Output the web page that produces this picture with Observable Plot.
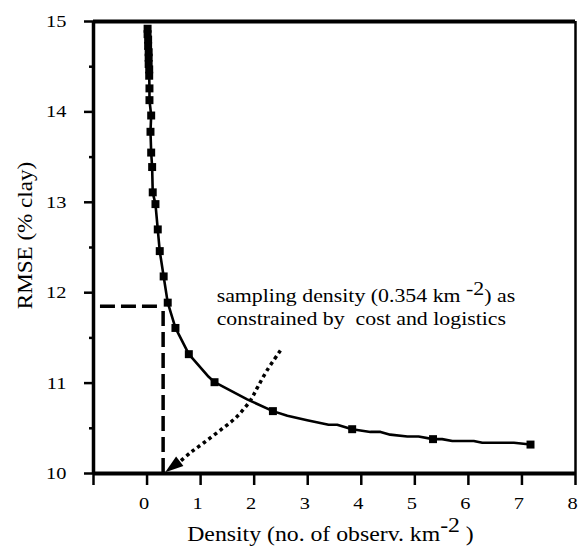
<!DOCTYPE html>
<html><head><meta charset="utf-8">
<script src="https://cdn.jsdelivr.net/npm/d3@7"></script>
<script src="https://cdn.jsdelivr.net/npm/@observablehq/plot@0.6"></script>
<style>body{margin:0;background:#fff} svg{display:block}</style>
</head><body><div id="chart"></div>
<script>
// Marked observations (density, RMSE)
const markerDensity = [0.01,0.01,0.02,0.02,0.03,0.03,0.03,0.04,0.04,0.045,0.045,0.077,0.064,0.077,0.095,0.106,0.157,0.2,0.237,0.31,0.386,0.53,0.78,1.26,2.35,3.83,5.34,7.16];
const markerRMSE    = [14.92,14.86,14.80,14.73,14.66,14.60,14.53,14.47,14.40,14.26,14.13,13.96,13.78,13.55,13.39,13.11,12.98,12.70,12.46,12.18,11.89,11.61,11.32,11.01,10.69,10.49,10.38,10.32];
// Unmarked vertices of the curve
const extraDensity = [1.15,1.87,2.62,2.99,3.39,3.55,4.17,4.36,4.54,4.86,5.07,5.51,5.70,6.10,6.26,6.85];
const extraRMSE    = [11.07,10.82,10.64,10.59,10.54,10.54,10.46,10.46,10.43,10.41,10.41,10.38,10.36,10.36,10.34,10.34];
// Chosen sampling density
const cutoffDensity = 0.3;
const cutoffRMSE = 11.85;
const dashStartDensity = -0.87;
// Dotted pointer curve
const pointerDensity = [2.49,2.24,2.06,1.93,1.68,1.37,1.06,0.81,0.61];
const pointerRMSE    = [11.36,11.14,10.95,10.81,10.63,10.48,10.34,10.23,10.13];
const pointerHead = {density: 0.52, rmse: 10.095};
// Ticks and labels
const xTicks = [-1,0,1,2,3,4,5,6,7,8];
const yTicks = [10,11,12,13,14,15];
const yMinorTicks = [10.5,11.5,12.5,13.5,14.5];
const xLabel = "Density (no. of observ. km-2 )";
const yLabel = "RMSE (% clay)";
const noteLines = ["sampling density (0.354 km -2) as", "constrained by  cost and logistics"];

const markers = markerDensity.map((d, i) => ({density: d, rmse: markerRMSE[i]}));
const curve = markers.concat(extraDensity.map((d, i) => ({density: d, rmse: extraRMSE[i]})))
  .sort((a, b) => b.rmse - a.rmse);
const pointer = pointerDensity.map((d, i) => ({density: d, rmse: pointerRMSE[i]}));
const font = "'Liberation Serif', 'Times New Roman', serif";

const chart = Plot.plot({
  width: 579, height: 548,
  marginLeft: 93, marginRight: 4, marginTop: 21, marginBottom: 75,
  x: {domain: [-1, 8]},
  y: {domain: [10, 15]},
  style: {fontFamily: font, fontSize: "17px", color: "black", background: "white"},
  marks: [
    Plot.axisY({ticks: yTicks, tickSize: 9, tickPadding: 18, strokeWidth: 2.5, fontSize: 17, tickFormat: d => String(d), label: null, className: "ytl"}),
    Plot.axisY({ticks: yMinorTicks, tickSize: 4, strokeWidth: 2.5, tickFormat: () => "", label: null}),
    Plot.axisX({ticks: xTicks, tickSize: 12, tickPadding: 11, strokeWidth: 2.5, fontSize: 17, tickFormat: d => d < 0 ? "" : String(d), label: null, className: "xtl"}),
    Plot.ruleX([-1], {stroke: "black", strokeWidth: 3.5}),
    Plot.ruleX([8], {stroke: "black", strokeWidth: 2.5}),
    Plot.ruleY([10], {stroke: "black", strokeWidth: 4}),
    Plot.ruleY([15], {stroke: "black", strokeWidth: 4}),
    Plot.ruleY([cutoffRMSE], {x1: dashStartDensity, x2: cutoffDensity, stroke: "black", strokeWidth: 3.5, strokeDasharray: "15,6", strokeLinecap: "butt"}),
    Plot.ruleX([cutoffDensity], {y1: 10, y2: cutoffRMSE, stroke: "black", strokeWidth: 3.5, strokeDasharray: "15,6", strokeLinecap: "butt"}),
    Plot.line(curve, {x: "density", y: "rmse", stroke: "black", strokeWidth: 2.6}),
    Plot.dot(markers, {x: "density", y: "rmse", symbol: "square", r: 4.5, fill: "black"}),
    Plot.line(pointer, {x: "density", y: "rmse", curve: "catmull-rom", stroke: "black", strokeWidth: 3.5, strokeDasharray: "3.5,3.5", strokeLinecap: "butt"}),
    Plot.dot([pointerHead], {x: "density", y: "rmse", symbol: "triangle", r: 6, fill: "black", className: "arrowhead"}),
    Plot.text([noteLines[0]], {x: 1.30, y: 11.96, textAnchor: "start", fontSize: 19, className: "note"}),
    Plot.text([noteLines[1]], {x: 1.30, y: 11.71, textAnchor: "start", fontSize: 19, className: "note"}),
    Plot.text([xLabel], {frameAnchor: "bottom", dy: 67, dx: -4, fontSize: 22, className: "xlab"}),
    Plot.text([yLabel], {frameAnchor: "left", textAnchor: "middle", dx: -68, dy: -12, rotate: -90, fontSize: 21, className: "ylab"})
  ]
});
document.getElementById("chart").appendChild(chart);
const svg = d3.select(chart);

// raise the "-2" exponent as a superscript
svg.selectAll("text").each(function() {
  const t = this.textContent;
  if (!t.includes("-2") || this.querySelector("tspan")) return;
  const [before, after] = t.split("-2");
  const el = d3.select(this).style("white-space", "pre").text("");
  el.append("tspan").text(before);
  el.append("tspan").attr("dy", "-0.4em").text("-2");
  el.append("tspan").attr("dy", "0.4em").text(after);
});

// widen glyphs like the reference's typeface
function stretch(sel, s, shift = 0) {
  svg.selectAll(sel).selectAll("text").each(function() {
    let t = this.getAttribute("transform");
    if (!t) {
      const x = +this.getAttribute("x") || 0, y = +this.getAttribute("y") || 0;
      this.removeAttribute("x"); this.removeAttribute("y");
      t = `translate(${x},${y})`;
    }
    this.setAttribute("transform", `${t} translate(${shift},0) scale(${s},1)`);
  });
}
stretch(".ytl", 1.2);
stretch(".xtl", 1.2, -3);
stretch(".note", 1.15);
stretch(".xlab", 1.08);
stretch(".ylab", 1.1);

// point the arrowhead down-left along the dotted curve, elongated
svg.selectAll(".arrowhead path").each(function() {
  const t = this.getAttribute("transform") || "";
  this.setAttribute("transform", `${t} rotate(233) scale(0.75,1.3)`);
});
</script></body></html>
